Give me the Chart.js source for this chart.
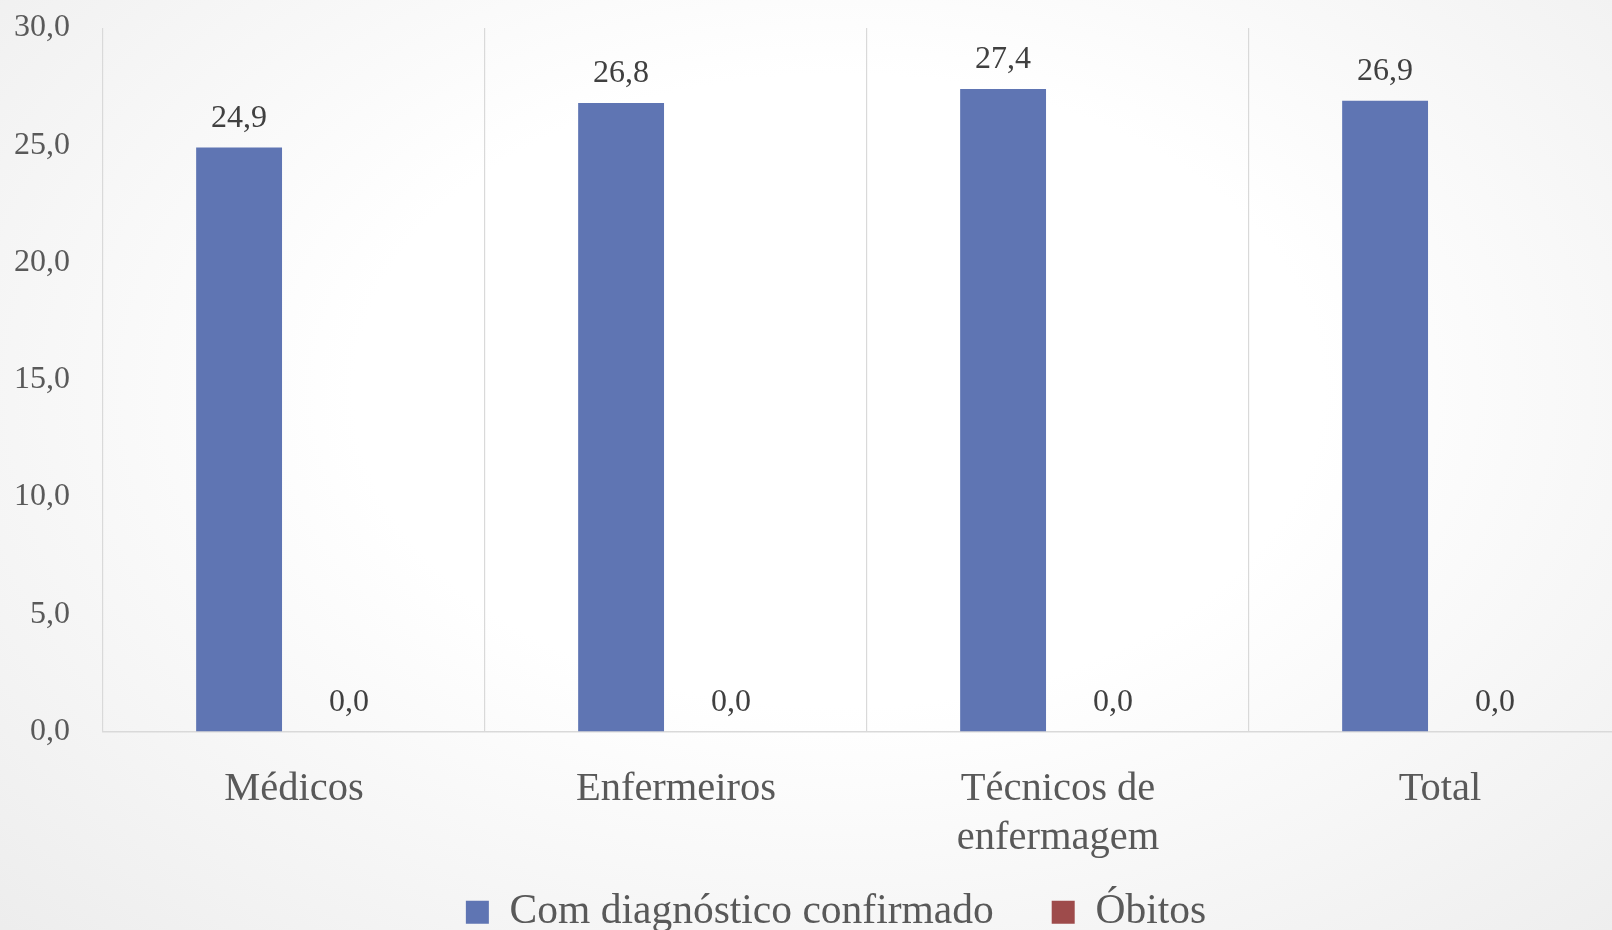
<!DOCTYPE html>
<html><head><meta charset="utf-8">
<script src="https://cdn.jsdelivr.net/npm/chart.js@4.4.1/dist/chart.umd.min.js"></script>
<style>
html,body{margin:0;padding:0;width:1612px;height:930px;overflow:hidden;}
body{background:radial-gradient(ellipse 75% 85% at 52% 42%, #ffffff 40%, #ececec 100%);}
canvas{display:block;}
</style></head><body>
<canvas id="c" width="1698" height="943"></canvas>
<script>
const categories = ['Médicos', 'Enfermeiros', ['Técnicos de', 'enfermagem'], 'Total'];
const seriesNames = ['Com diagnóstico confirmado', 'Óbitos'];
const confirmados = [24.9, 26.8, 27.4, 26.9];
const obitos = [0.0, 0.0, 0.0, 0.0];
const yTickLabels = ['0,0', '5,0', '10,0', '15,0', '20,0', '25,0', '30,0'];

const FONT = '"Liberation Serif", "Times New Roman", serif';
const fmt = v => v.toFixed(1).replace('.', ',');

const valueLabels = {
  id: 'valueLabels',
  afterLayout(chart) {
    // widen the label clip areas so axis labels may extend past their boxes
    chart.scales.x.bottom = chart.height;
    chart.scales.y.left = 0;
  },
  afterDatasetsDraw(chart) {
    const ctx = chart.ctx;
    ctx.save();
    ctx.font = '32px ' + FONT;
    ctx.fillStyle = '#404040';
    ctx.textAlign = 'center';
    ctx.textBaseline = 'middle';
    chart.data.datasets.forEach((ds, i) => {
      chart.getDatasetMeta(i).data.forEach((bar, j) => {
        ctx.fillText(fmt(ds.data[j]), bar.x, bar.y - 29);
      });
    });
    ctx.restore();
  }
};

new Chart(document.getElementById('c'), {
  type: 'bar',
  data: {
    labels: categories,
    datasets: [
      { label: seriesNames[0], data: confirmados, backgroundColor: '#5F75B3', borderWidth: 0 },
      { label: seriesNames[1], data: obitos, backgroundColor: '#9E4B4B', borderWidth: 0 }
    ]
  },
  options: {
    responsive: false,
    devicePixelRatio: 1,
    animation: false,
    categoryPercentage: 0.575,
    barPercentage: 0.782,
    layout: { padding: { top: 28, left: 41, right: 67, bottom: 0 } },
    plugins: {
      legend: {
        position: 'bottom',
        labels: {
          boxWidth: 23, boxHeight: 23, padding: 58,
          color: '#595959',
          font: { family: FONT, size: 41.5 }
        }
      },
      tooltip: { enabled: false }
    },
    scales: {
      x: {
        grid: { display: true, offset: true, drawTicks: false, color: '#d9d9d9', lineWidth: 1.2 },
        border: { display: true, color: '#d9d9d9', width: 1.5 },
        ticks: {
          color: '#595959', padding: 33, maxRotation: 0, autoSkip: false,
          font: { family: FONT, size: 40.5, lineHeight: 1.22 }
        },
        afterFit(scale) { scale.height = 102; }
      },
      y: {
        min: 0, max: 30,
        grid: { display: false, drawTicks: false },
        border: { display: false },
        ticks: {
          stepSize: 5, padding: 33, color: '#595959',
          font: { family: FONT, size: 32 },
          callback: (v, i) => yTickLabels[i]
        },
        afterFit(scale) { scale.width = 62; scale.paddingTop = 0; scale.paddingBottom = 0; }
      }
    }
  },
  plugins: [valueLabels]
});
</script>
</body></html>
